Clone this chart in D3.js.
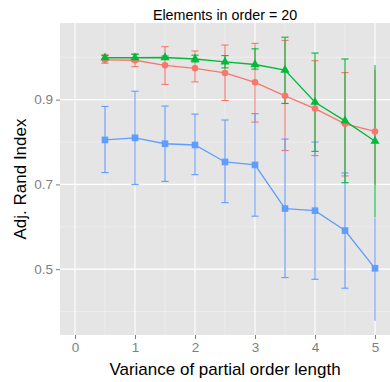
<!DOCTYPE html>
<html><head><meta charset="utf-8">
<script src="https://cdn.jsdelivr.net/npm/d3@7"></script>
<style>html,body{margin:0;padding:0;background:#fff;}svg{display:block;}</style>
</head><body>
<script>
const titleText = "Elements in order = 20";
const xLabel = "Variance of partial order length";
const yLabel = "Adj. Rand Index";
const xVals = [0.5, 1, 1.5, 2, 2.5, 3, 3.5, 4, 4.5, 5];
const xTicks = [0, 1, 2, 3, 4, 5];
const yTicks = [0.5, 0.7, 0.9];

const redMean = [0.994, 0.993, 0.981, 0.974, 0.963, 0.941, 0.909, 0.879, 0.843, 0.825];
const redLow  = [0.986, 0.978, 0.936, 0.942, 0.898, 0.847, 0.780, 0.768, 0.720, 0.700];
const redHigh = [1.006, 1.008, 1.025, 1.015, 1.029, 1.033, 1.040, 0.992, 0.964, 0.970];

const blueMean = [0.805, 0.810, 0.796, 0.793, 0.753, 0.746, 0.643, 0.638, 0.591, 0.502];
const blueLow  = [0.728, 0.700, 0.707, 0.723, 0.657, 0.625, 0.480, 0.476, 0.455, 0.378];
const blueHigh = [0.884, 0.920, 0.885, 0.866, 0.852, 0.867, 0.807, 0.800, 0.727, 0.620];

const greenMean = [0.999, 0.999, 0.9995, 0.996, 0.989, 0.983, 0.970, 0.894, 0.850, 0.802];
const greenLow  = [0.994, 0.990, 0.996, 0.989, 0.975, 0.972, 0.891, 0.778, 0.704, 0.622];
const greenHigh = [1.004, 1.007, 1.003, 1.005, 1.004, 1.020, 1.0475, 1.010, 0.996, 0.982];

const series = [
  {name: "red", color: "#F8766D", shape: "circle", mean: redMean, low: redLow, high: redHigh},
  {name: "blue", color: "#619CFF", shape: "square", mean: blueMean, low: blueLow, high: blueHigh},
  {name: "green", color: "#00BA38", shape: "triangle", mean: greenMean, low: greenLow, high: greenHigh}
];
const noCapX = 5;

const W = 390, H = 382;
const panel = {left: 60, right: 390, top: 23, bottom: 335};

const svg = d3.select("body").append("svg").attr("width", W).attr("height", H)
  .style("font-family", "'Liberation Sans', Arial, Helvetica, sans-serif");

// scales with ggplot-like 5% expansion
const xMinData = 0, xMaxData = d3.max(xVals);
const xPad = (xMaxData - xMinData) * 0.05;
const x = d3.scaleLinear().domain([xMinData - xPad, xMaxData + xPad]).range([panel.left, panel.right]);
const allY = series.flatMap(s => s.low.concat(s.high));
const yMin = d3.min(allY), yMax = d3.max(allY);
const yPad = (yMax - yMin) * 0.05;
const y = d3.scaleLinear().domain([yMin - yPad, yMax + yPad]).range([panel.bottom, panel.top]);

// panel background
svg.append("rect").attr("x", panel.left).attr("y", panel.top)
  .attr("width", panel.right - panel.left).attr("height", panel.bottom - panel.top)
  .attr("fill", "#E5E5E5");

const g = svg.append("g");
// minor grid
const xMinor = d3.range(0.5, 5, 1);
const yMinor = [0.4, 0.6, 0.8, 1.0];
g.selectAll(".xminor").data(xMinor).enter().append("line")
  .attr("x1", d => x(d)).attr("x2", d => x(d)).attr("y1", panel.top).attr("y2", panel.bottom)
  .attr("stroke", "#F2F2F2").attr("stroke-width", 0.6);
g.selectAll(".yminor").data(yMinor).enter().append("line")
  .attr("x1", panel.left).attr("x2", panel.right).attr("y1", d => y(d)).attr("y2", d => y(d))
  .attr("stroke", "#F2F2F2").attr("stroke-width", 0.6);
// major grid
g.selectAll(".xmajor").data(xTicks).enter().append("line")
  .attr("x1", d => x(d)).attr("x2", d => x(d)).attr("y1", panel.top).attr("y2", panel.bottom)
  .attr("stroke", "#FFFFFF").attr("stroke-width", 1.1);
g.selectAll(".ymajor").data(yTicks).enter().append("line")
  .attr("x1", panel.left).attr("x2", panel.right).attr("y1", d => y(d)).attr("y2", d => y(d))
  .attr("stroke", "#FFFFFF").attr("stroke-width", 1.1);

// axes
const xAxis = d3.axisBottom(x).tickValues(xTicks).tickFormat(d3.format("d")).tickSize(4).tickPadding(3);
const yAxis = d3.axisLeft(y).tickValues(yTicks).tickFormat(d3.format(".1f")).tickSize(4).tickPadding(3);
const gx = svg.append("g").attr("transform", `translate(0,${panel.bottom})`).call(xAxis);
const gy = svg.append("g").attr("transform", `translate(${panel.left},0)`).call(yAxis);
[gx, gy].forEach(a => {
  a.select(".domain").remove();
  a.selectAll(".tick line").attr("stroke", "#7F7F7F").attr("stroke-width", 1);
  a.selectAll(".tick text").attr("fill", "#7F7F7F").attr("font-size", "13.5px")
    .attr("font-family", "'Liberation Sans', Arial, Helvetica, sans-serif");
});

// error bars
const capHalf = 0.06;
series.forEach(s => {
  const eg = svg.append("g").attr("stroke", s.color).attr("stroke-width", 1.1).attr("fill", "none");
  xVals.forEach((xv, i) => {
    eg.append("line").attr("x1", x(xv)).attr("x2", x(xv)).attr("y1", y(s.low[i])).attr("y2", y(s.high[i]));
    if (xv !== noCapX) {
      [s.low[i], s.high[i]].forEach(v => {
        eg.append("line").attr("x1", x(xv - capHalf)).attr("x2", x(xv + capHalf)).attr("y1", y(v)).attr("y2", y(v));
      });
    }
  });
});

// lines
const line = d3.line().x((d) => x(d[0])).y(d => y(d[1]));
series.forEach(s => {
  svg.append("path").datum(xVals.map((xv, i) => [xv, s.mean[i]]))
    .attr("d", line).attr("fill", "none").attr("stroke", s.color).attr("stroke-width", 1.3);
});

// points
const symbols = {circle: d3.symbolCircle, square: d3.symbolSquare, triangle: d3.symbolTriangle};
const sizes = {circle: 34, square: 44, triangle: 36};
series.forEach(s => {
  svg.append("g").selectAll("path").data(xVals.map((xv, i) => [xv, s.mean[i]])).enter().append("path")
    .attr("transform", d => `translate(${x(d[0])},${y(d[1])})`)
    .attr("d", d3.symbol().type(symbols[s.shape]).size(sizes[s.shape]))
    .attr("fill", s.color);
});

// titles
svg.append("text").attr("x", (panel.left + panel.right) / 2).attr("y", 20)
  .attr("text-anchor", "middle").attr("font-size", "14.3px").attr("fill", "#000").text(titleText);
svg.append("text").attr("x", (panel.left + panel.right) / 2).attr("y", 375)
  .attr("text-anchor", "middle").attr("font-size", "17px").attr("fill", "#000").text(xLabel);
svg.append("text").attr("transform", `translate(26,${(panel.top + panel.bottom) / 2}) rotate(-90)`)
  .attr("text-anchor", "middle").attr("font-size", "17px").attr("fill", "#000").text(yLabel);
</script>
</body></html>
